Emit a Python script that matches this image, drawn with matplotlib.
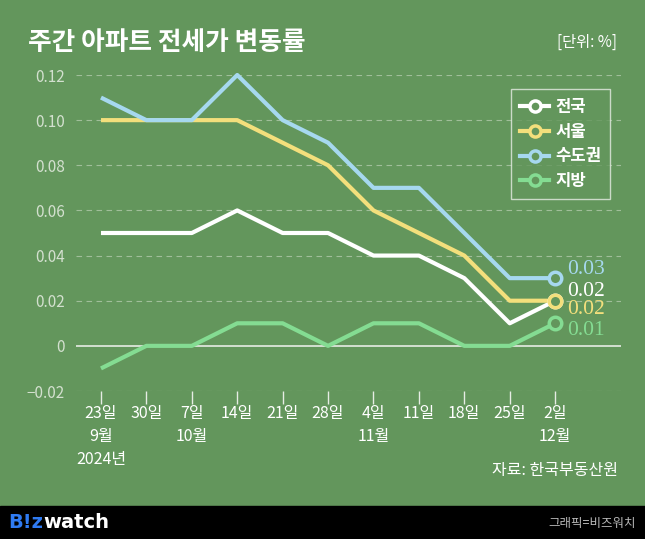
import matplotlib.pyplot as plt
from matplotlib.lines import Line2D

plt.rcParams['font.family'] = ['Noto Sans CJK KR', 'DejaVu Sans']

# 데이터
x_labels = ['23일\n9월\n2024년', '30일', '7일\n10월', '14일', '21일', '28일',
            '4일\n11월', '11일', '18일', '25일', '2일\n12월']
nation = [0.05, 0.05, 0.05, 0.06, 0.05, 0.05, 0.04, 0.04, 0.03, 0.01, 0.02]
seoul = [0.10, 0.10, 0.10, 0.10, 0.09, 0.08, 0.06, 0.05, 0.04, 0.02, 0.02]
capital = [0.11, 0.10, 0.10, 0.12, 0.10, 0.09, 0.07, 0.07, 0.05, 0.03, 0.03]
local = [-0.01, 0, 0, 0.01, 0.01, 0, 0.01, 0.01, 0, 0, 0.01]
y_ticks = [-0.02, 0, 0.02, 0.04, 0.06, 0.08, 0.10, 0.12]
y_tick_labels = ['\u22120.02', '0', '0.02', '0.04', '0.06', '0.08', '0.10', '0.12']

bg = '#63965c'
series = [
    ('전국', nation, '#ffffff'),
    ('서울', seoul, '#f3df7c'),
    ('수도권', capital, '#a6d8ef'),
    ('지방', local, '#84dc92'),
]

fig = plt.figure(figsize=(6.45, 5.39), dpi=100)
fig.patch.set_facecolor(bg)
ax = fig.add_axes([76 / 645, 1 - 391 / 539, 545 / 645, 316 / 539])
ax.set_facecolor(bg)

xs = list(range(len(x_labels)))

# 격자
for v in y_ticks:
    if v == 0:
        ax.axhline(v, color='#e6ece4', lw=1.2, zorder=1)
    else:
        ax.axhline(v, color='#c9dac5', lw=0.8, ls=(0, (5, 4)), alpha=0.6, zorder=1)

for name, vals, c in series:
    ax.plot(xs, vals, color=c, lw=3, zorder=3, clip_on=False, solid_capstyle='butt')
    ax.plot(xs[-1], vals[-1], 'o', ms=9, mfc=bg, mec=c, mew=2.5, zorder=4, clip_on=False)

# 끝 값 라벨
end_labels = [('0.03', capital[-1], 0.0037, '#a6d8ef'),
              ('0.02', nation[-1], 0.0042, '#ffffff'),
              ('0.02', seoul[-1], -0.0040, '#f3df7c'),
              ('0.01', local[-1], -0.0030, '#84dc92')]
for txt, v, off, c in end_labels:
    ax.text(xs[-1] + 0.27, v + off, txt, color=c, fontsize=15.5,
            family='Liberation Serif', va='center', ha='left')

ax.set_xlim(-0.55, 11.45)
ax.set_ylim(-0.02, 0.12)
ax.set_yticks(y_ticks)
ax.set_yticklabels(y_tick_labels)
ax.set_xticks(xs)
ax.set_xticklabels(x_labels)
for s in ax.spines.values():
    s.set_visible(False)
ax.tick_params(axis='y', length=0, pad=8, labelcolor='#d3e0cf', labelsize=11)
ax.tick_params(axis='x', length=9, width=1, color='#e6ece4', pad=1,
               labelcolor='white', labelsize=11.5)
for lbl in ax.get_xticklabels():
    lbl.set_linespacing(1.45)
    lbl.set_va('top')

# 범례
handles = [Line2D([0], [0], color=c, lw=3, marker='o', ms=8, mfc=bg, mec=c, mew=2.5)
           for _, _, c in series]
leg = ax.legend(handles, [s[0] for s in series], loc='upper left',
                bbox_to_anchor=((511 - 76) / 545, (391 - 89) / 316),
                borderaxespad=0, frameon=True, facecolor=bg, edgecolor='#e6ece4',
                fancybox=False, handlelength=1.75, handletextpad=0.35,
                labelspacing=0.4, borderpad=0.55,
                prop={'size': 12, 'weight': 'bold'})
leg.get_frame().set_linewidth(1)
for t in leg.get_texts():
    t.set_color('white')

# 제목과 주석
fig.text(28 / 645, 1 - 42 / 539, '주간 아파트 전세가 변동률', color='white',
         fontsize=18.5, fontweight='bold', va='center', ha='left')
fig.text(617 / 645, 1 - 42 / 539, '[단위: %]', color='white', fontsize=11,
         va='center', ha='right')
fig.text(618 / 645, 1 - 470 / 539, '자료: 한국부동산원', color='white', fontsize=11.5,
         va='center', ha='right')

# 하단 바
fig.patches.append(plt.Rectangle((0, 0), 1, 33 / 539, transform=fig.transFigure,
                                 color='black', zorder=0))
fig.text(8 / 645, 1 - 523 / 539, 'B!z', color='#2f7bf2', fontsize=14,
         fontweight='bold', va='center', ha='left', family='DejaVu Sans')
fig.text(43 / 645, 1 - 523 / 539, 'watch', color='white', fontsize=14,
         fontweight='bold', va='center', ha='left', family='DejaVu Sans')
fig.text(636 / 645, 1 - 523 / 539, '그래픽=비즈워치', color='#b8b8b8', fontsize=9,
         va='center', ha='right')

fig.savefig('out.png', dpi=100, facecolor=bg)
